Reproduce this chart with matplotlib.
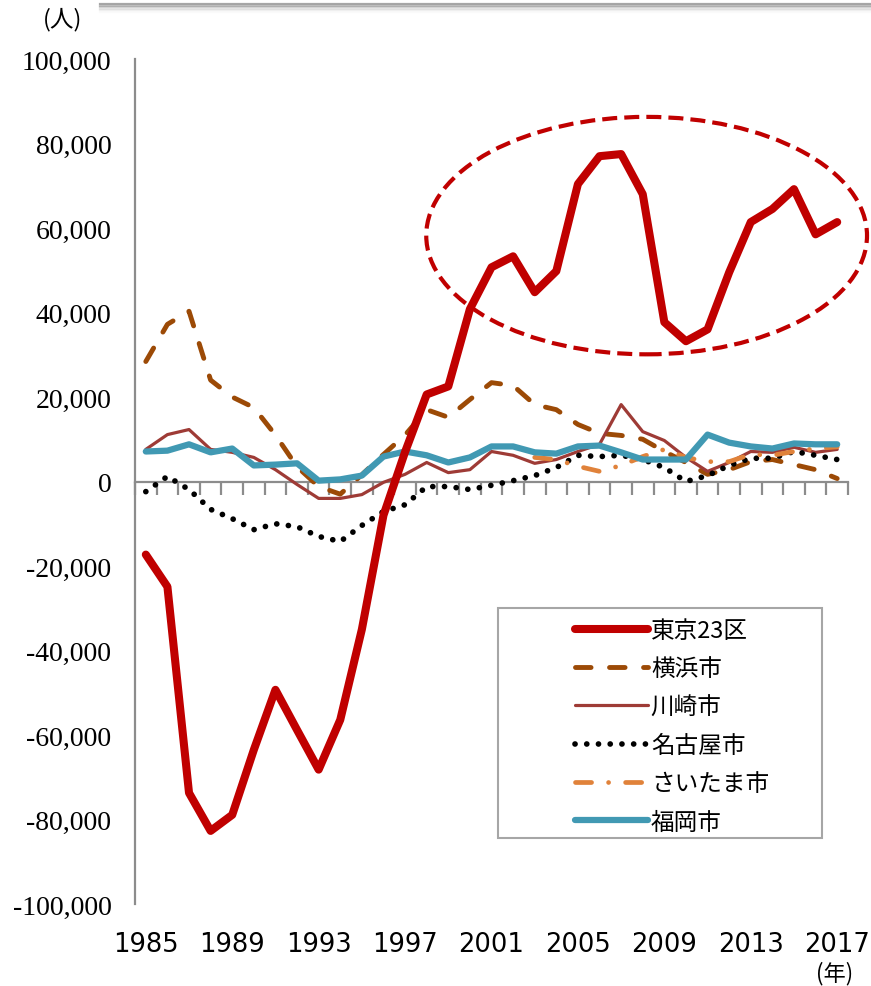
import numpy as np
import matplotlib.pyplot as plt
from matplotlib.patches import Ellipse, Rectangle
from matplotlib.lines import Line2D

plt.rcParams['font.family'] = ['Noto Sans CJK JP', 'DejaVu Sans']

# Net migration by city (persons), 1985-2017
years = list(range(1985, 2018))
tokyo23 = [-17300, -24900, -73700, -82700, -78900, -63500, -49300, -58800, -68200, -56400,
           -35000, -8000, 7000, 20600, 22500, 40800, 50700, 53300, 44800, 49800,
           70400, 77000, 77500, 68000, 37700, 33200, 36000, 49500, 61400, 64500,
           69200, 58500, 61400]
yokohama = [28400, 37200, 40300, 24000, 20000, 17500, 11000, 3500, -1200, -3000,
            1600, 6400, 11000, 17000, 15200, 19400, 23400, 22700, 18200, 17000,
            13500, 11400, 10900, 10000, 7100, 4500, 1700, 2800, 4700, 5200,
            4000, 2800, 700]
kawasaki = [7600, 11100, 12300, 7600, 6900, 5700, 2800, -700, -4000, -4000,
            -3100, -200, 1700, 4500, 2100, 2800, 7100, 6200, 4300, 5200,
            7100, 8800, 18200, 11800, 9700, 5700, 2400, 4500, 7100, 6900,
            8100, 6900, 7600]
nagoya = [-2400, 1200, -1900, -6600, -8800, -11400, -10000, -10700, -13000, -14200,
          -10400, -7100, -5500, -1200, -1200, -1900, -900, 200, 1400, 3300,
          6200, 5900, 6200, 5200, 3300, 0, 1400, 3800, 5500, 5500,
          7100, 6200, 5200]
saitama = [np.nan] * 18 + [5700, 5200, 3600, 2400, 3800, 5900, 7600, 5700, 4700, 4700,
                           6400, 6200, 7100, 7800, 8200]
fukuoka = [7100, 7300, 8800, 6900, 7800, 3800, 4000, 4300, 200, 500,
           1400, 5900, 7100, 6200, 4500, 5700, 8300, 8300, 6900, 6600,
           8300, 8500, 6900, 5200, 5200, 5200, 11100, 9200, 8300, 7800,
           9000, 8800, 8800]
labels = ['東京23区', '横浜市', '川崎市', '名古屋市', 'さいたま市', '福岡市']
label_years = years[::4]

x = np.arange(len(years))

fig = plt.figure(figsize=(8.71, 9.87), dpi=100)
ax = fig.add_axes([135 / 871, 1 - 905 / 987, 713 / 871, 845 / 987])

h_yoko, = ax.plot(x, yokohama, color='#9C4A06', lw=3.5, ls=(0, (3.2, 3.8)),
                  dash_capstyle='round', zorder=3)
h_kawa, = ax.plot(x, kawasaki, color='#9E3B36', lw=2.3, solid_capstyle='round', zorder=3)
h_nago, = ax.plot(x, nagoya, color='black', lw=4.1, ls=(0, (0.01, 2.05)),
                  dash_capstyle='round', zorder=4)
h_sai, = ax.plot(x, saitama, color='#E0823A', lw=3.4, ls=(0, (3.4, 3.6, 0.01, 3.6)),
                 dash_capstyle='round', zorder=4)
h_fuku, = ax.plot(x, fukuoka, color='#4199B3', lw=4.5, solid_capstyle='round',
                  solid_joinstyle='round', zorder=5)
h_tok, = ax.plot(x, tokyo23, color='#C00000', lw=5.8, solid_capstyle='round',
                 solid_joinstyle='round', zorder=6)

# dashed ellipse highlighting the Tokyo peak period
ell = Ellipse((23.18, 58200), 20.4, 56200, fill=False, edgecolor='#C00000',
              lw=3.0, ls=(0, (3.6, 1.7)), clip_on=False, zorder=7)
ax.add_patch(ell)

ax.set_xlim(-0.5, len(years) - 0.5)
ax.set_ylim(-100000, 100000)
ax.set_yticks(np.arange(-100000, 100001, 20000))
ax.set_yticklabels([f"{v:,}" for v in range(-100000, 100001, 20000)],
                   family='Liberation Serif', fontsize=20)
ax.tick_params(axis='y', length=0, pad=17)

ax.spines['top'].set_visible(False)
ax.spines['right'].set_visible(False)
ax.spines['left'].set_color('#8C8C8C')
ax.spines['left'].set_linewidth(1.6)
ax.spines['bottom'].set_position(('data', 0))
ax.spines['bottom'].set_color('#8C8C8C')
ax.spines['bottom'].set_linewidth(1.6)
ax.set_xticks(np.arange(-0.5, len(years), 1.0))
ax.set_xticklabels([])
ax.tick_params(axis='x', direction='out', length=9, width=1.6, color='#8C8C8C')

for yr in label_years:
    ax.text(years.index(yr), -0.047, str(yr), transform=ax.get_xaxis_transform(),
            ha='center', va='center', fontsize=18.5, family='DejaVu Sans')

fig.text(63 / 871, 1 - 20 / 987, '(人)', ha='center', va='center', fontsize=17)
fig.text(835 / 871, 1 - 974 / 987, '(年)', ha='center', va='center', fontsize=16)

# legend with its own frame
fig.patches.append(Rectangle((498 / 871, 1 - 839 / 987), 324 / 871, 230 / 987,
                             transform=fig.transFigure, fill=False,
                             edgecolor='#A6A6A6', lw=1.5))
handles = [h_tok, h_yoko, h_kawa, h_nago, h_sai, h_fuku]
ax.legend(handles, labels, loc='upper left', bbox_to_anchor=(563 / 871, 1 - 608 / 987),
          bbox_transform=fig.transFigure, frameon=False, borderpad=0,
          handlelength=3.1, handletextpad=0.12, labelspacing=0.65, fontsize=17)

# shadowed box edge at top of slide
for i, a in enumerate([0.55, 0.35, 0.22, 0.13, 0.07, 0.03]):
    yy = 1 - (5 + i * 1.6) / 987
    fig.add_artist(Line2D([100 / 871, 1], [yy, yy], transform=fig.transFigure,
                          color='#606060', alpha=a, lw=1.6))

fig.savefig('out.png', dpi=100)
